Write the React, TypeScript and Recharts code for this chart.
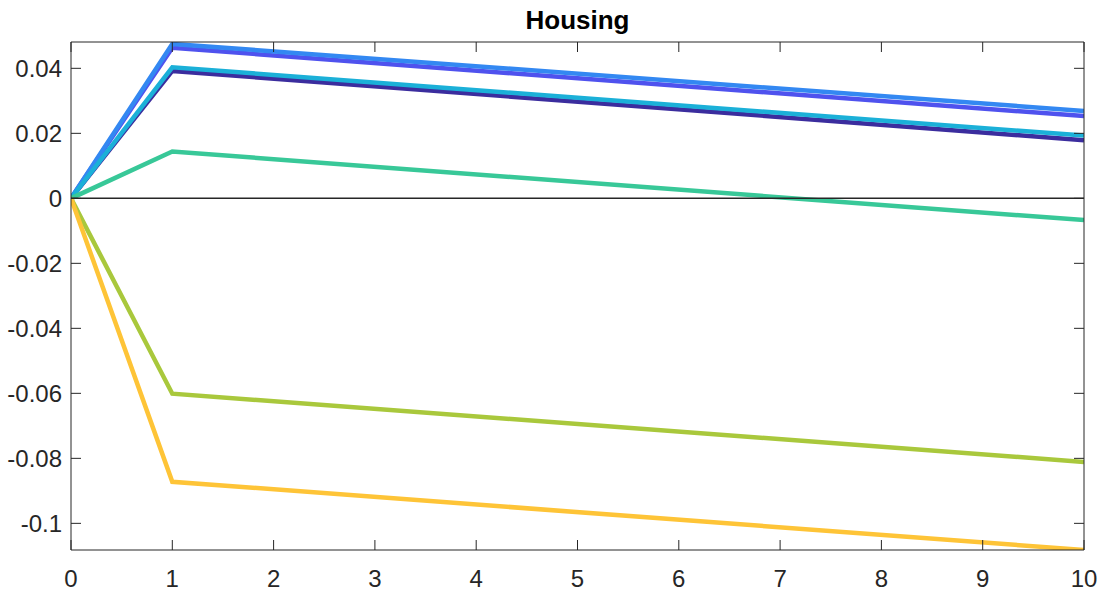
import React from 'react';
import { Line, LineChart, ReferenceLine, XAxis, YAxis } from 'recharts';

const steps = [0, 1, 10];

// impulse responses, one list per line (colours follow the parula order)
const navySeries = [0, 0.0392, 0.0179];
const blueSeries = [0, 0.0463, 0.0253];
const skySeries = [0, 0.0475, 0.0269];
const cyanSeries = [0, 0.0403, 0.0193];
const tealSeries = [0, 0.0144, -0.0067];
const limeSeries = [0, -0.0601, -0.0811];
const yellowSeries = [0, -0.0872, -0.1082];

const xTicks = [0, 1, 2, 3, 4, 5, 6, 7, 8, 9, 10];
const yTicks = [-0.1, -0.08, -0.06, -0.04, -0.02, 0, 0.02, 0.04];
const yDomain: [number, number] = [-0.1082, 0.0481];

const series = [
  { key: 'navy', values: navySeries, color: '#3b2d9e' },
  { key: 'blue', values: blueSeries, color: '#4f52ee' },
  { key: 'sky', values: skySeries, color: '#3388f2' },
  { key: 'cyan', values: cyanSeries, color: '#1bb0d8' },
  { key: 'teal', values: tealSeries, color: '#38c898' },
  { key: 'lime', values: limeSeries, color: '#a9c83c' },
  { key: 'yellow', values: yellowSeries, color: '#fec437' },
];

const data = steps.map((step, i) => {
  const row: Record<string, number> = { step };
  series.forEach((s) => {
    row[s.key] = s.values[i];
  });
  return row;
});

const font = '"Liberation Sans", Arial, Helvetica, sans-serif';
const ink = '#262626';
const TICK = 10; // matlab-style inward tick length
const LABEL_GAP_X = 20;
const LABEL_GAP_Y = 9;

const fmt = (v: number) => String(Number(v.toFixed(2)));

// bottom axis: label below, tick mark pointing up into the plot
function BottomTick(props: any) {
  const { x, y, payload } = props;
  const axisY = y - LABEL_GAP_X;
  return (
    <g>
      <line x1={x} x2={x} y1={axisY} y2={axisY - TICK} stroke={ink} />
      <text x={x} y={y} dy="0.71em" textAnchor="middle" fill={ink} fontSize={24} fontFamily={font}>
        {payload.value}
      </text>
    </g>
  );
}

function LeftTick(props: any) {
  const { x, y, payload } = props;
  const axisX = x + LABEL_GAP_Y;
  return (
    <g>
      <line x1={axisX} x2={axisX + TICK} y1={y} y2={y} stroke={ink} />
      <text x={x} y={y} dy="0.355em" textAnchor="end" fill={ink} fontSize={24} fontFamily={font}>
        {fmt(payload.value)}
      </text>
    </g>
  );
}

function TopTick(props: any) {
  const { x, y } = props;
  return <line x1={x} x2={x} y1={y} y2={y + TICK} stroke={ink} />;
}

function RightTick(props: any) {
  const { x, y } = props;
  return <line x1={x} x2={x - TICK} y1={y} y2={y} stroke={ink} />;
}

export default function App() {
  return (
    <div style={{ position: 'absolute', left: 0, top: 0, width: 1099, height: 598, background: '#fff' }}>
      <div
        style={{
          position: 'absolute',
          left: 71,
          width: 1013,
          top: 7,
          textAlign: 'center',
          fontFamily: font,
          fontWeight: 'bold',
          fontSize: 26,
          lineHeight: '26px',
          color: '#000',
        }}
      >
        Housing
      </div>
      <LineChart width={1099} height={598} data={data} margin={{ top: 41, right: 14, bottom: 0, left: 0 }}>
        <XAxis
          dataKey="step"
          type="number"
          domain={[0, 10]}
          ticks={xTicks}
          interval={0}
          allowDataOverflow
          height={48}
          stroke={ink}
          tickLine={false}
          tickSize={0}
          tickMargin={LABEL_GAP_X}
          tick={<BottomTick />}
        />
        <XAxis
          xAxisId="top"
          orientation="top"
          dataKey="step"
          type="number"
          domain={[0, 10]}
          ticks={xTicks}
          interval={0}
          allowDataOverflow
          height={1}
          stroke={ink}
          tickLine={false}
          tickSize={0}
          tickMargin={0}
          tick={<TopTick />}
        />
        <YAxis
          type="number"
          domain={yDomain}
          ticks={yTicks}
          interval={0}
          allowDataOverflow
          width={71}
          stroke={ink}
          tickLine={false}
          tickSize={0}
          tickMargin={LABEL_GAP_Y}
          tick={<LeftTick />}
        />
        <YAxis
          yAxisId="right"
          orientation="right"
          type="number"
          domain={yDomain}
          ticks={yTicks}
          interval={0}
          allowDataOverflow
          width={1}
          stroke={ink}
          tickLine={false}
          tickSize={0}
          tickMargin={0}
          tick={<RightTick />}
        />
        {series.map((s) => (
          <Line
            key={s.key}
            type="linear"
            dataKey={s.key}
            stroke={s.color}
            strokeWidth={4.5}
            dot={false}
            activeDot={false}
            isAnimationActive={false}
          />
        ))}
        <ReferenceLine y={0} stroke={ink} strokeWidth={1.5} />
      </LineChart>
    </div>
  );
}
